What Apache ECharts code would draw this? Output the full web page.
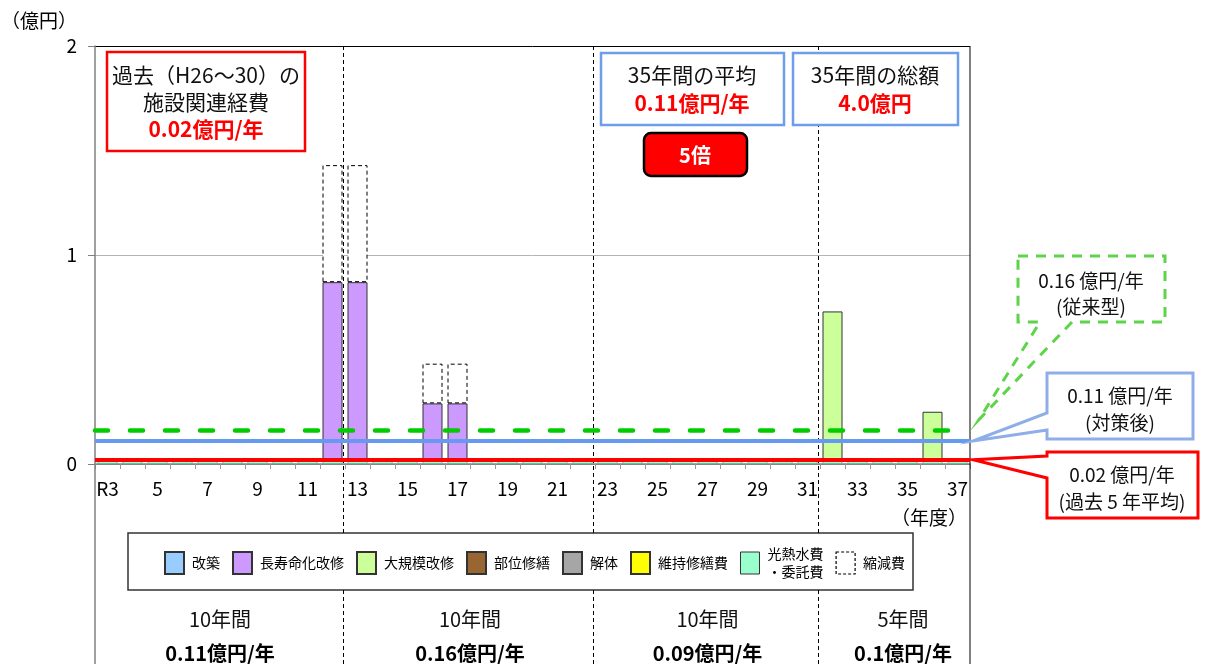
<!DOCTYPE html>
<html><head><meta charset="utf-8">
<script src="https://cdn.jsdelivr.net/npm/echarts@6/dist/echarts.min.js"></script>
<style>html,body{margin:0;padding:0;background:#fff}#c{width:1205px;height:664px}</style>
</head><body><div id="c"></div>
<script>
// ---- data ----
const years = ['R3','R4','R5','R6','R7','R8','R9','R10','R11','R12','R13','R14','R15','R16','R17','R18','R19','R20','R21','R22','R23','R24','R25','R26','R27','R28','R29','R30','R31','R32','R33','R34','R35','R36','R37'];
const kaichiku   = [0,0,0,0,0,0,0,0,0,0,0,0,0,0,0,0,0,0,0,0,0,0,0,0,0,0,0,0,0,0,0,0,0,0,0];
const chojumyo   = [0,0,0,0,0,0,0,0,0,0.85,0.85,0,0,0.27,0.27,0,0,0,0,0,0,0,0,0,0,0,0,0,0,0,0,0,0,0,0];
const daikibo    = [0,0,0,0,0,0,0,0,0,0,0,0,0,0,0,0,0,0,0,0,0,0,0,0,0,0,0,0,0,0.71,0,0,0,0.23,0];
const bui        = [0,0,0,0,0,0,0,0,0,0,0,0,0,0,0,0,0,0,0,0,0,0,0,0,0,0,0,0,0,0,0,0,0,0,0];
const kaitai     = [0,0,0,0,0,0,0,0,0,0,0,0,0,0,0,0,0,0,0,0,0,0,0,0,0,0,0,0,0,0,0,0,0,0,0];
const iji        = [0,0,0,0,0,0,0,0,0,0,0,0,0,0,0,0,0,0,0,0,0,0,0,0,0,0,0,0,0,0,0,0,0,0,0];
const kounetsu   = [0.024,0.02,0.02,0.02,0.02,0.02,0.02,0.02,0.02,0.02,0.02,0.02,0.02,0.02,0.02,0.02,0.02,0.02,0.02,0.02,0.02,0.02,0.02,0.02,0.02,0.02,0.02,0.02,0.02,0.02,0.02,0.02,0.02,0.02,0.02];
const shukugen   = [0,0,0,0,0,0,0,0,0,0.56,0.56,0,0,0.19,0.19,0,0,0,0,0,0,0,0,0,0,0,0,0,0,0,0,0,0,0,0];
const lineConventional = 0.16; // 従来型
const lineAfter = 0.11;        // 対策後
const linePast = 0.02;         // 過去5年平均
const yTicks = [0, 1, 2];
const periodStarts = ['R3','R13','R23','R32'];
const periodYears = ['10年間','10年間','10年間','5年間'];
const periodAvg = ['0.11億円/年','0.16億円/年','0.09億円/年','0.1億円/年'];
const legendOrder = ['改築','長寿命化改修','大規模改修','部位修繕','解体','維持修繕費','光熱水費・委託費','縮減費'];

// ---- chart ----
const FONT = '"Noto Sans CJK JP","Noto Sans",sans-serif';
const chart = echarts.init(document.getElementById('c'));
const nz = a => a.map(v => v === 0 ? null : v);
const barBase = (name, data, color, extra) => Object.assign({
  name, type:'bar', stack:'total', data:nz(data), barCategoryGap:'20%',
  itemStyle:{color, borderColor:'#333', borderWidth:1}
}, extra || {});

const series = [
  barBase('光熱水費・委託費', kounetsu, '#99ffcc', {itemStyle:{color:'#99ffcc', borderColor:'#6a9', borderWidth:0.8}}),
  barBase('改築', kaichiku, '#99ccff'),
  barBase('長寿命化改修', chojumyo, '#cc99ff'),
  barBase('大規模改修', daikibo, '#ccff99'),
  barBase('部位修繕', bui, '#996633'),
  barBase('解体', kaitai, '#a6a6a6'),
  barBase('維持修繕費', iji, '#ffff00'),
  barBase('縮減費', shukugen, '#ffffff', {
    itemStyle:{color:'#ffffff', borderColor:'#000', borderWidth:1, borderType:[4,3]},
    markLine:{silent:true, symbol:['none','none'], z:10, label:{show:false},
      data:[
        {yAxis:lineConventional, lineStyle:{color:'#00cc00', width:4.5, type:[13,22], cap:'round'}},
        {yAxis:lineAfter, lineStyle:{color:'#6699f0', width:4, type:'solid'}},
        {yAxis:linePast, lineStyle:{color:'#ff0000', width:4, type:'solid'}}
      ]}
  })
];

const legendData = legendOrder.map(n => {
  if (n === '縮減費') return {name:n, itemStyle:{color:'#fff', borderColor:'#000', borderWidth:1.2, borderType:[3,2]}};
  if (n === '光熱水費・委託費') return {name:n, itemStyle:{borderColor:'#333', borderWidth:1}};
  return n;
});

chart.setOption({
  animation:false,
  textStyle:{fontFamily:FONT},
  grid:{left:95, right:235, top:46, bottom:200},
  xAxis:{type:'category', data:years, boundaryGap:true,
    axisLine:{lineStyle:{color:'#888', width:1.5}},
    axisTick:{show:true, interval:0, length:5, lineStyle:{color:'#999'}},
    axisLabel:{interval:1, color:'#000', fontSize:19, margin:15, fontFamily:FONT,
      formatter:(v,i)=> i===0 ? v : v.replace('R','')}},
  yAxis:{type:'value', min:yTicks[0], max:yTicks[yTicks.length-1], interval:1,
    axisLine:{show:true, lineStyle:{color:'#808080', width:1.5}},
    axisTick:{show:true, length:7, lineStyle:{color:'#808080'}},
    axisLabel:{color:'#000', fontSize:19, margin:18, fontFamily:FONT},
    splitLine:{show:true, lineStyle:{color:['#808080','#b4b4b4','#000'], width:1}}},
  legend:{data:legendData, left:164, top:545, padding:0, itemGap:12, itemWidth:19, itemHeight:22,
    icon:'rect', selectedMode:false,
    formatter:n => n.replace('・','\n・'),
    textStyle:{fontSize:14, color:'#000', lineHeight:18, padding:[0,0,0,3], fontFamily:FONT}},
  series
});

// ---- annotations (layout computed from axes) ----
const px = i => chart.convertToPixel({xAxisIndex:0}, i);
const py = v => chart.convertToPixel({yAxisIndex:0}, v);
const cw = px(1) - px(0);
const leftX = px(0) - cw/2, rightX = px(years.length-1) + cw/2;
const topY = py(yTicks[yTicks.length-1]), zeroY = py(0);
const bounds = periodStarts.map(n => px(years.indexOf(n)) - cw/2).concat([rightX]);
const BOTTOM = 664, LEG_TOP = 533, LEG_BOT = 590;

const g = [];
const txt = (text, x, y, size, opts) => g.push(Object.assign({type:'text', z:100,
  style:Object.assign({text, x, y, fontSize:size, fontFamily:FONT, fill:'#111', align:'center', verticalAlign:'middle'}, (opts||{}))}));
const ln = (x1,y1,x2,y2,style,z) => g.push({type:'line', z:z||1, shape:{x1,y1,x2,y2}, style});

// borders
ln(leftX, zeroY, leftX, BOTTOM, {stroke:'#808080', lineWidth:1.5}, 5);
ln(rightX, topY, rightX, BOTTOM, {stroke:'#000', lineWidth:1}, 5);
// period dashed lines
for (let k = 1; k < bounds.length-1; k++) {
  const x = Math.round(bounds[k]) - 1.5;
  ln(x, topY, x, LEG_TOP, {stroke:'#000', lineWidth:1, lineDash:[4,3]}, 1);
  ln(x, LEG_BOT, x, BOTTOM, {stroke:'#000', lineWidth:1, lineDash:[4,3]}, 1);
}
// legend box
g.push({type:'rect', z:0, shape:{x:128, y:LEG_TOP, width:785, height:LEG_BOT-LEG_TOP}, style:{fill:'#fff', stroke:'#333', lineWidth:1.5}});
// period labels
for (let k = 0; k < periodYears.length; k++) {
  let cx = (bounds[k] + bounds[k+1]) / 2;
  if (k === periodYears.length-1) cx += 8;
  txt(periodYears[k], cx, 619, 20);
  txt(periodAvg[k], cx, 653, 20, {fontWeight:'bold', fill:'#000'});
}
// axis unit labels
txt('（億円）', 39, 21, 19, {fill:'#000'});
txt('（年度）', 929, 518, 19, {fill:'#000'});

// top-left red box
g.push({type:'rect', z:100, shape:{x:107, y:52, width:198, height:99}, style:{fill:'#fff', stroke:'#ff0000', lineWidth:2.5}});
txt('過去（H26～30）の', 206, 75, 21);
txt('施設関連経費', 206, 102, 21);
txt('0.02億円/年', 206, 129, 21, {fill:'#ff0000', fontWeight:'bold'});
// 35-year average box
g.push({type:'rect', z:100, shape:{x:601, y:53, width:183, height:72}, style:{fill:'#fff', stroke:'#6d9eeb', lineWidth:2.5}});
txt('35年間の平均', 692, 75, 21);
txt('0.11億円/年', 692, 103, 21, {fill:'#ff0000', fontWeight:'bold'});
// total box
g.push({type:'rect', z:100, shape:{x:793, y:53, width:165, height:72}, style:{fill:'#fff', stroke:'#6d9eeb', lineWidth:2.5}});
txt('35年間の総額', 875, 75, 21);
txt('4.0億円', 875, 103, 21, {fill:'#ff0000', fontWeight:'bold'});
// 5倍
g.push({type:'rect', z:100, shape:{x:644, y:133, width:103, height:43, r:7}, style:{fill:'#ff0000', stroke:'#000', lineWidth:2.5}});
txt('5倍', 695, 155, 20, {fill:'#fff', fontWeight:'bold'});

// callouts
const yC = py(lineConventional), yA = py(lineAfter), yP = py(linePast);
g.push({type:'polygon', z:100, shape:{points:[[1018,256],[1165,256],[1165,322],[1072,322],[rightX+9, yC-11],[1040,322],[1018,322]]},
  style:{fill:'#fff', stroke:'#5fd34a', lineWidth:3, lineDash:[10,8]}});
txt('0.16 億円/年', 1091, 281, 19);
txt('(従来型)', 1091, 307, 19);
g.push({type:'polygon', z:100, shape:{points:[[1047,373],[1193,373],[1193,439],[1047,439],[1047,430],[rightX+3, yA],[1047,413]]},
  style:{fill:'#fff', stroke:'#8eaee8', lineWidth:3}});
txt('0.11 億円/年', 1120, 396, 19);
txt('(対策後)', 1120, 423, 19);
g.push({type:'polygon', z:100, shape:{points:[[1047,452],[1198,452],[1198,518],[1047,518],[1047,478],[rightX+3, yP],[1047,456]]},
  style:{fill:'#fff', stroke:'#ff0000', lineWidth:3}});
txt('0.02 億円/年', 1122, 475, 19);
txt('(過去 5 年平均)', 1122, 502, 19);

chart.setOption({graphic:{elements:g}});
</script></body></html>
